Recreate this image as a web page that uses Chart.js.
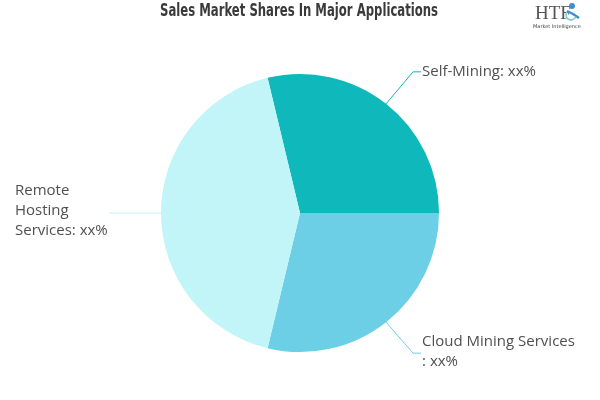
<!DOCTYPE html>
<html>
<head>
<meta charset="utf-8">
<script src="https://cdn.jsdelivr.net/npm/chart.js@4/dist/chart.umd.min.js"></script>
<style>
html,body{margin:0;padding:0;background:#fff;}
#wrap{width:600px;height:400px;position:relative;}
</style>
</head>
<body>
<div id="wrap"><canvas id="c" width="600" height="400"></canvas></div>
<script>
const categories = ["Self-Mining", "Cloud Mining Services", "Remote Hosting Services"];
const shares = [28.75, 28.75, 42.5];
const labelText = [["Self-Mining: xx%"], ["Cloud Mining Services", ": xx%"], ["Remote", "Hosting", "Services: xx%"]];
const colors = ["#0fb8bb", "#6dcfe5", "#c1f5f7"];
const titleText = "Sales Market Shares In Major Applications";

const labelPlugin = {
  id: "labels",
  afterDraw(chart) {
    const ctx = chart.ctx;
    const meta = chart.getDatasetMeta(0);
    // title (heavy, condensed look)
    ctx.save();
    ctx.fillStyle = "#3a3a3a";
    ctx.font = "900 17px 'DejaVu Sans', sans-serif";
    ctx.textBaseline = "middle";
    ctx.textAlign = "center";
    const w = ctx.measureText(titleText).width;
    const sc = 278 / w;
    ctx.translate(299, 12);
    ctx.scale(sc, 1);
    ctx.fillText(titleText, 0, 0);
    ctx.restore();
    // logo
    ctx.save();
    ctx.textBaseline = "middle";
    ctx.font = "19px 'Liberation Serif', serif";
    ctx.fillStyle = "#555";
    ctx.textAlign = "left";
    ctx.fillText("HTF", 535, 14);
    ctx.font = "5px 'DejaVu Sans', sans-serif";
    ctx.fillStyle = "#444";
    ctx.fillText("Market Intelligence", 533, 27);
    ctx.fillStyle = "#3f8fd0";
    ctx.beginPath(); ctx.arc(572, 6, 3, 0, Math.PI*2); ctx.fill();
    ctx.strokeStyle = "#3f8fd0"; ctx.lineWidth = 2.5;
    ctx.beginPath(); ctx.moveTo(567, 11); ctx.lineTo(573, 14); ctx.lineTo(579, 18); ctx.stroke();
    ctx.strokeStyle = "#7cc"; ctx.lineWidth = 1.5;
    ctx.beginPath(); ctx.arc(571, 15, 5, 0.3, Math.PI*1.2); ctx.stroke();
    ctx.restore();

    // slice labels
    ctx.save();
    ctx.font = "15px 'Open Sans', sans-serif";
    ctx.fillStyle = "#505050";
    ctx.textBaseline = "middle";
    ctx.lineWidth = 1;
    meta.data.forEach((arc, i) => {
      const p = arc.getProps(["x","y","startAngle","endAngle","outerRadius"], true);
      const mid = (p.startAngle + p.endAngle) / 2;
      const sx = p.x + Math.cos(mid) * p.outerRadius;
      const sy = p.y + Math.sin(mid) * p.outerRadius;
      const right = Math.cos(mid) >= 0;
      const lines = labelText[i];
      ctx.strokeStyle = colors[i];
      ctx.textAlign = "left";
      ctx.beginPath();
      ctx.moveTo(sx, sy);
      if (Math.abs(Math.sin(mid)) < 0.2) {
        const ex = right ? sx + 50 : sx - 52;
        ctx.lineTo(ex, sy);
        ctx.stroke();
        lines.forEach((t, k) => ctx.fillText(t, 15, sy - 22 + k * 20));
      } else {
        const ey = sy + (Math.sin(mid) < 0 ? -32 : 31);
        const ex = sx + (right ? 27 : -27);
        ctx.lineTo(ex, ey);
        ctx.lineTo(ex + (right ? 8 : -8), ey);
        ctx.stroke();
        const x0 = ex + 9;
        if (lines.length === 1) ctx.fillText(lines[0], x0, ey);
        else lines.forEach((t, k) => ctx.fillText(t, x0, ey - 11 + k * 20));
      }
    });
    ctx.restore();
  }
};

new Chart(document.getElementById("c"), {
  type: "pie",
  data: {
    labels: categories,
    datasets: [{ data: shares, backgroundColor: colors, borderWidth: 0, hoverOffset: 0 }]
  },
  options: {
    responsive: false,
    animation: false,
    rotation: -13.5,
    layout: { padding: { top: 74, bottom: 48, left: 0, right: 0 } },
    plugins: { legend: { display: false }, tooltip: { enabled: false }, title: { display: false } }
  },
  plugins: [labelPlugin]
});
</script>
</body>
</html>
